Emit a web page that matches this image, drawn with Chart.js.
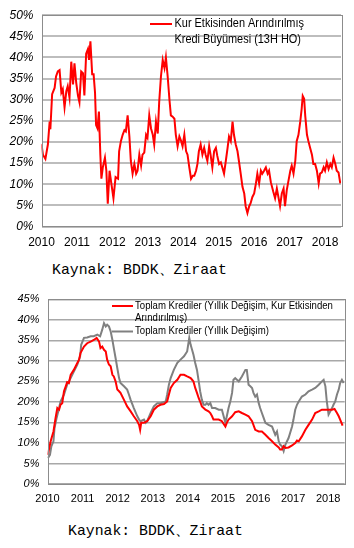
<!DOCTYPE html>
<html>
<head>
<meta charset="utf-8">
<script src="https://cdn.jsdelivr.net/npm/chart.js@4.4.1/dist/chart.umd.min.js"></script>
<style>
  html, body { margin: 0; padding: 0; background: #fff; }
  body { width: 354px; height: 548px; position: relative; overflow: hidden; }
  .box { position: absolute; left: 0; width: 354px; }
  .src { position: absolute; font-family: "Liberation Mono", "DejaVu Sans Mono", monospace;
         font-size: 14.8px; color: #000; white-space: nowrap; line-height: 18px; }
</style>
</head>
<body>
<div class="box" style="top:0;height:258px"><canvas id="c1" width="354" height="258"></canvas></div>
<div class="src" style="left:52px;top:261px">Kaynak: BDDK、Ziraat</div>
<div class="box" style="top:280px;height:240px"><canvas id="c2" width="354" height="240"></canvas></div>
<div class="src" style="left:68px;top:522px">Kaynak: BDDK、Ziraat</div>
<script>
// CHART 1 DATA - kur etkisinden arindirilmis kredi buyumesi (13H HO), %
const years1 = [
  2010.00, 2010.04, 2010.11, 2010.18, 2010.23, 2010.25, 2010.30, 2010.37, 2010.41, 2010.46,
  2010.51, 2010.56, 2010.60, 2010.65, 2010.70, 2010.74, 2010.79, 2010.84, 2010.89, 2010.93,
  2010.98, 2011.03, 2011.07, 2011.12, 2011.17, 2011.21, 2011.26, 2011.31, 2011.34, 2011.38,
  2011.43, 2011.47, 2011.51, 2011.54, 2011.58, 2011.62, 2011.66, 2011.69, 2011.73, 2011.79,
  2011.83, 2011.87, 2011.92, 2011.97, 2012.03, 2012.09, 2012.16,
  2012.19, 2012.24, 2012.29, 2012.34, 2012.38, 2012.43, 2012.48, 2012.52, 2012.57, 2012.62,
  2012.67, 2012.71, 2012.76, 2012.81, 2012.85, 2012.90, 2012.95, 2012.99, 2013.04, 2013.09,
  2013.14, 2013.18, 2013.23, 2013.28, 2013.32, 2013.37, 2013.42, 2013.47, 2013.51, 2013.56,
  2013.61, 2013.65, 2013.70, 2013.75, 2013.79, 2013.84, 2013.89, 2013.94, 2013.98, 2014.03,
  2014.08, 2014.12, 2014.17, 2014.22, 2014.27, 2014.31, 2014.36,
  2014.40, 2014.44, 2014.49, 2014.54, 2014.59, 2014.63, 2014.68, 2014.73, 2014.77, 2014.82,
  2014.87, 2014.92, 2014.96, 2015.01, 2015.06, 2015.10, 2015.15, 2015.20, 2015.25, 2015.29,
  2015.34, 2015.39, 2015.43, 2015.48, 2015.53, 2015.57, 2015.62, 2015.67, 2015.72, 2015.76,
  2015.81, 2015.86, 2015.90, 2015.95, 2016.00, 2016.05, 2016.09, 2016.14, 2016.19, 2016.23,
  2016.28, 2016.33, 2016.38, 2016.42, 2016.47,
  2016.54, 2016.59, 2016.64, 2016.69, 2016.73, 2016.78, 2016.83, 2016.87, 2016.92, 2016.97,
  2017.02, 2017.06, 2017.11, 2017.16, 2017.20, 2017.25, 2017.30, 2017.34, 2017.37, 2017.41,
  2017.44, 2017.49, 2017.53, 2017.58, 2017.63, 2017.67, 2017.72, 2017.77, 2017.82, 2017.86,
  2017.91, 2017.96, 2018.00, 2018.05, 2018.10, 2018.15, 2018.19, 2018.24, 2018.29, 2018.33,
  2018.38, 2018.43
];
const growth13w = [
  19.5, 17, 16, 19.4, 24.8, 23, 31.3, 32.8, 35.5, 36.7,
  37, 31.7, 32.5, 28.2, 32, 33.2, 30.5, 39, 33.6, 38.6,
  34, 30.9, 29.4, 36.7, 36.3, 31, 40.9, 42, 39.4, 43.8,
  36, 36, 31.7, 24, 23.2, 27.2, 17, 11.3, 14, 16.3,
  13.2, 5.4, 13.2, 10.2, 6.7, 11.7, 11.3,
  17.8, 20.2, 21.7, 22.8, 22.5, 26.3, 21.3, 15.5, 12.5, 14.8,
  12.5, 13.2, 17, 14.4, 17, 17.5, 21.7, 21, 26.3, 23.2,
  21.7, 19.4, 24.8, 22, 29.4, 35.5, 39.4, 37.5, 40, 35.5,
  30, 26.3, 26, 25.5, 21.7, 19, 21.3, 20.2, 19, 21.7,
  17.8, 17, 14, 11.3, 12, 12, 13.2,
  14.8, 17.8, 19.4, 17, 18.6, 17, 15.5, 19, 17, 14,
  17.8, 18.6, 16.7, 14.8, 15.2, 14, 12.5, 15.5, 18.6, 21.3,
  20.2, 24.8, 21.7, 19.4, 17.8, 15.5, 12.5, 9.4, 7.8, 4.8,
  3.2, 4.8, 5.5, 7, 7.8, 10.2, 12.5, 10.2, 13.2, 12.5,
  13.2, 14, 12.5, 13.2, 10.5,
  8.2, 6.7, 9, 6.7, 4.8, 7.8, 9, 4.8, 8.6, 10.9,
  13.2, 14.4, 12.5, 15.5, 20.2, 21.7, 24.8, 27.8, 30.9, 30.2,
  26.3, 21.7, 20.2, 18.6, 17, 14.8, 14.8, 13.2, 10.2, 12.5,
  12.8, 14, 13.2, 15.2, 13.6, 14.8, 14, 16.3, 14.8, 13.2,
  12.8, 10.2
];

// CHART 2 DATA - toplam krediler yillik degisim, %
const yearsAdj = [
  2010.01, 2010.09, 2010.17, 2010.23, 2010.28, 2010.33, 2010.37, 2010.42, 2010.47, 2010.52,
  2010.56, 2010.61, 2010.66, 2010.75, 2010.85, 2010.90, 2010.94, 2010.99, 2011.04, 2011.13,
  2011.23, 2011.32, 2011.40, 2011.47, 2011.51, 2011.56, 2011.61, 2011.66, 2011.70, 2011.75,
  2011.80, 2011.85, 2011.89, 2011.94, 2011.99, 2012.04, 2012.08, 2012.18, 2012.27, 2012.37,
  2012.46, 2012.56, 2012.61, 2012.64, 2012.67, 2012.75, 2012.84, 2012.94, 2013.03, 2013.13,
  2013.22, 2013.32, 2013.41, 2013.46, 2013.51, 2013.60, 2013.70, 2013.79, 2013.89, 2013.98,
  2014.08,
  2014.12, 2014.16, 2014.21, 2014.26, 2014.31, 2014.35, 2014.40, 2014.45, 2014.50,
  2014.59, 2014.64, 2014.69, 2014.73, 2014.78, 2014.88, 2014.97,
  2015.07, 2015.11, 2015.16, 2015.21, 2015.26, 2015.35, 2015.45, 2015.54, 2015.64, 2015.73,
  2015.83, 2015.92, 2016.02, 2016.11, 2016.21, 2016.30, 2016.40, 2016.49, 2016.59, 2016.63,
  2016.68, 2016.73, 2016.78, 2016.87, 2016.97, 2017.06, 2017.11, 2017.16, 2017.25, 2017.35,
  2017.44, 2017.54, 2017.63, 2017.73, 2017.82, 2017.92, 2018.01, 2018.11, 2018.18, 2018.25,
  2018.30, 2018.34, 2018.41
];
const loansAdj = [
  7.1, 10.4, 12.8, 16.1, 18.5, 18.1, 19.3, 19.7, 22.6, 23.8,
  24.8, 24.6, 26.6, 27.8, 29.5, 30.3, 31.9, 32.7, 33.5, 34.3,
  34.7, 35.1, 35.6, 34.7, 33.1, 33.5, 32.7, 32.3, 30.3, 29.1,
  28.7, 26.6, 26.2, 25, 23, 22.6, 22.2, 20.5, 18.9, 17.7,
  16.5, 15.3, 14.4, 13.2, 14.9, 14.9, 15.3, 16.5, 18.1, 18.9,
  19.3, 19.5, 20.1, 21.8, 23.4, 24.6, 25.4, 26.6, 26.6, 26.2,
  25.8,
  25.4, 25, 23.4, 22.2, 20.9, 20.1, 18.9, 18.5, 18.1,
  17.7, 17.3, 16.5, 15.7, 15.7, 15.7, 15.3,
  14, 14.9, 15.7, 16.1, 16.5, 17.5, 17.7, 17.3, 16.9, 16.5,
  15.3, 13.2, 12.8, 12.8, 12, 11.2, 10.4, 9.6, 8.9, 8.4,
  8.4, 9.2, 8.8, 8.9, 9.4, 10, 10.6, 10.4, 11.6, 13.2,
  14.4, 15.7, 17.3, 17.7, 18.1, 18.1, 18.1, 18.1, 18.3, 17.3,
  16.5, 15.7, 14.2
];
const yearsTotal = [
  2010.01, 2010.07, 2010.11, 2010.17, 2010.20, 2010.26, 2010.33, 2010.37, 2010.47, 2010.56,
  2010.66, 2010.75, 2010.85, 2010.93, 2010.96, 2011.04, 2011.13, 2011.23, 2011.32, 2011.42,
  2011.50, 2011.56, 2011.61, 2011.66, 2011.70, 2011.75, 2011.80, 2011.85, 2011.89, 2011.94,
  2011.99, 2012.04, 2012.08, 2012.18, 2012.27, 2012.32, 2012.37, 2012.46, 2012.56, 2012.61,
  2012.65, 2012.75, 2012.80, 2012.84, 2012.94, 2013.03, 2013.13, 2013.22, 2013.32, 2013.37,
  2013.41, 2013.46, 2013.51, 2013.60, 2013.70, 2013.79, 2013.89, 2013.98, 2014.04, 2014.08,
  2014.12, 2014.16, 2014.21, 2014.26, 2014.31, 2014.35, 2014.40, 2014.45, 2014.50, 2014.54,
  2014.59, 2014.64, 2014.69, 2014.78, 2014.88, 2014.97,
  2015.07, 2015.11, 2015.16, 2015.21, 2015.26, 2015.30, 2015.35, 2015.45, 2015.54, 2015.64,
  2015.68, 2015.73, 2015.78, 2015.83, 2015.87, 2015.92, 2015.97,
  2016.02, 2016.06, 2016.11, 2016.16, 2016.21, 2016.30, 2016.40, 2016.49, 2016.54, 2016.59,
  2016.63, 2016.68, 2016.73, 2016.78, 2016.87, 2016.97,
  2017.01, 2017.06, 2017.11, 2017.16, 2017.25, 2017.35, 2017.44, 2017.54, 2017.63, 2017.73,
  2017.82, 2017.87, 2017.92, 2017.96,
  2018.01, 2018.06, 2018.11, 2018.15, 2018.20, 2018.25, 2018.30, 2018.34, 2018.39, 2018.44
];
const loansTotal = [
  6.3, 7.1, 9.2, 10.4, 13.6, 16.1, 18.5, 20.1, 21.8, 24.2,
  25.8, 27.4, 29.1, 31.1, 33.9, 35.6, 35.7, 36, 36, 36.4,
  36, 37.6, 39.2, 38.4, 38.8, 38.4, 37.2, 35.1, 33.1, 30.7,
  28.2, 25.8, 24.6, 23.8, 23, 21.8, 20.5, 18.5, 16.5, 15.7,
  15.3, 15.7, 14.9, 15.3, 17.3, 18.9, 19.7, 19.7, 20, 20.1,
  21.8, 24.2, 25.8, 27.8, 29.5, 30.3, 31.1, 32.3, 35.6, 33.9,
  32.7, 31.5, 29.5, 27.8, 25, 22.6, 20.5, 19.3, 19.3, 19.7,
  19.3, 19.7, 18.5, 18.5, 18.1, 18.1,
  14.9, 16.5, 18.5, 20.1, 22.2, 25.4, 25.8, 25, 26.2, 27.8,
  27.8, 24.2, 23.8, 23.4, 22.2, 21.3, 21.8,
  19.7, 18.5, 17.3, 16.1, 14.9, 14.4, 14, 12, 12.8, 10.4,
  9.6, 9.2, 8, 9.6, 11.2, 14,
  15.7, 18.1, 19.3, 20.1, 21.3, 21.8, 22.6, 23, 23.4, 24.2,
  25, 25.4, 23.8, 20.1,
  16.9, 17.7, 18.5, 19.3, 20.1, 21.8, 23, 24.6, 25.4, 24.6
];
const yearTicks = [2010, 2011, 2012, 2013, 2014, 2015, 2016, 2017, 2018];

const pts = (xs, ys) => xs.map((x, i) => ({ x: x, y: ys[i] }));

// frame round the plot area
const framePlugin = {
  id: 'frame',
  afterDatasetsDraw(chart, args, opts) {
    const a = chart.chartArea, ctx = chart.ctx;
    ctx.save();
    ctx.strokeStyle = opts.color;
    ctx.lineWidth = 1;
    ctx.strokeRect(Math.round(a.left) + 0.5, Math.round(a.top) + 0.5,
                   Math.round(a.right - a.left), Math.round(a.bottom - a.top));
    ctx.restore();
  }
};

// legend written inside the plot; text is a bit narrow like the original
const noteLegend = {
  id: 'noteLegend',
  afterDraw(chart, args, opts) {
    const ctx = chart.ctx;
    ctx.save();
    ctx.font = opts.font;
    ctx.textBaseline = 'middle';
    ctx.fillStyle = '#000';
    opts.items.forEach(it => {
      ctx.strokeStyle = it.color;
      ctx.lineWidth = 2;
      ctx.beginPath();
      ctx.moveTo(it.x1, it.y);
      ctx.lineTo(it.x2, it.y);
      ctx.stroke();
      it.lines.forEach((t, i) => {
        ctx.save();
        ctx.translate(it.tx, it.y + i * opts.lineH);
        ctx.scale(opts.squeeze, 1);
        ctx.fillText(t, 0, 0);
        ctx.restore();
      });
    });
    ctx.restore();
  }
};

function makeChart(id, cfg) {
  return new Chart(document.getElementById(id), {
    type: 'line',
    data: { datasets: cfg.datasets },
    plugins: [framePlugin, noteLegend],
    options: {
      responsive: false,
      animation: false,
      layout: { padding: cfg.pad },
      elements: { point: { radius: 0 }, line: { tension: 0 } },
      plugins: {
        legend: { display: false },
        tooltip: { enabled: false },
        frame: { color: '#8c8c8c' },
        noteLegend: cfg.legend
      },
      scales: {
        x: {
          type: 'linear',
          min: 2010,
          max: cfg.xMax,
          afterFit: s => { s.height = cfg.xH; },
          afterBuildTicks: s => { s.ticks = yearTicks.map(v => ({ value: v })); },
          grid: { display: false, drawTicks: false },
          border: { display: false },
          ticks: {
            color: '#000',
            padding: cfg.xPad,
            maxRotation: 0,
            autoSkip: false,
            font: { family: 'Liberation Sans, Arial, sans-serif', size: cfg.xFont },
            callback: v => String(v)
          }
        },
        y: {
          min: 0,
          max: cfg.yMax,
          afterFit: s => { s.width = cfg.yW; },
          grid: { color: cfg.gridColor, lineWidth: cfg.gridW, drawTicks: false },
          border: { display: false },
          ticks: {
            stepSize: 5,
            color: '#000',
            padding: cfg.yPad,
            font: { family: 'Liberation Sans, Arial, sans-serif', size: cfg.yFont, style: 'italic' },
            callback: v => v + '%'
          }
        }
      }
    }
  });
}

makeChart('c1', {
  datasets: [{
    label: 'Kur Etkisinden Arındırılmış Kredi Büyümesi (13H HO)',
    data: pts(years1, growth13w),
    borderColor: '#ff0000',
    borderWidth: 2
  }],
  pad: { top: 10, right: 13, left: 0, bottom: 0 },
  xMax: 2018.45, xH: 31.5, xPad: 9, xFont: 12,
  yMax: 50, yW: 41.5, yPad: 8, yFont: 12,
  gridColor: '#bdbdbd', gridW: 2,
  legend: {
    font: '12.5px "Liberation Sans", Arial, sans-serif',
    lineH: 16,
    squeeze: 0.875,
    items: [{ color: '#ff0000', x1: 150, x2: 172, y: 24, tx: 174.5,
              lines: ['Kur Etkisinden Arındırılmış', 'Kredi Büyümesi (13H HO)'] }]
  }
});

makeChart('c2', {
  datasets: [{
    label: 'Toplam Krediler (Yıllık Değişim, Kur Etkisinden Arındırılmış)',
    data: pts(yearsAdj, loansAdj),
    borderColor: '#ff0000',
    borderWidth: 2
  }, {
    label: 'Toplam Krediler (Yıllık Değişim)',
    data: pts(yearsTotal, loansTotal),
    borderColor: '#808080',
    borderWidth: 2
  }],
  pad: { top: 19.3, right: 9.3, left: 0, bottom: 0 },
  xMax: 2018.47, xH: 36, xPad: 8, xFont: 11,
  yMax: 45, yW: 47.5, yPad: 8, yFont: 11,
  gridColor: '#a8a8a8', gridW: 1.5,
  legend: {
    font: '10px "Liberation Sans", Arial, sans-serif',
    lineH: 12,
    squeeze: 0.96,
    items: [
      { color: '#ff0000', x1: 112, x2: 133, y: 26, tx: 135,
        lines: ['Toplam Krediler (Yıllık Değişim, Kur Etkisinden', 'Arındırılmış)'] },
      { color: '#808080', x1: 112, x2: 133, y: 51.5, tx: 135,
        lines: ['Toplam Krediler (Yıllık Değişim)'] }
    ]
  }
});
</script>
</body>
</html>
